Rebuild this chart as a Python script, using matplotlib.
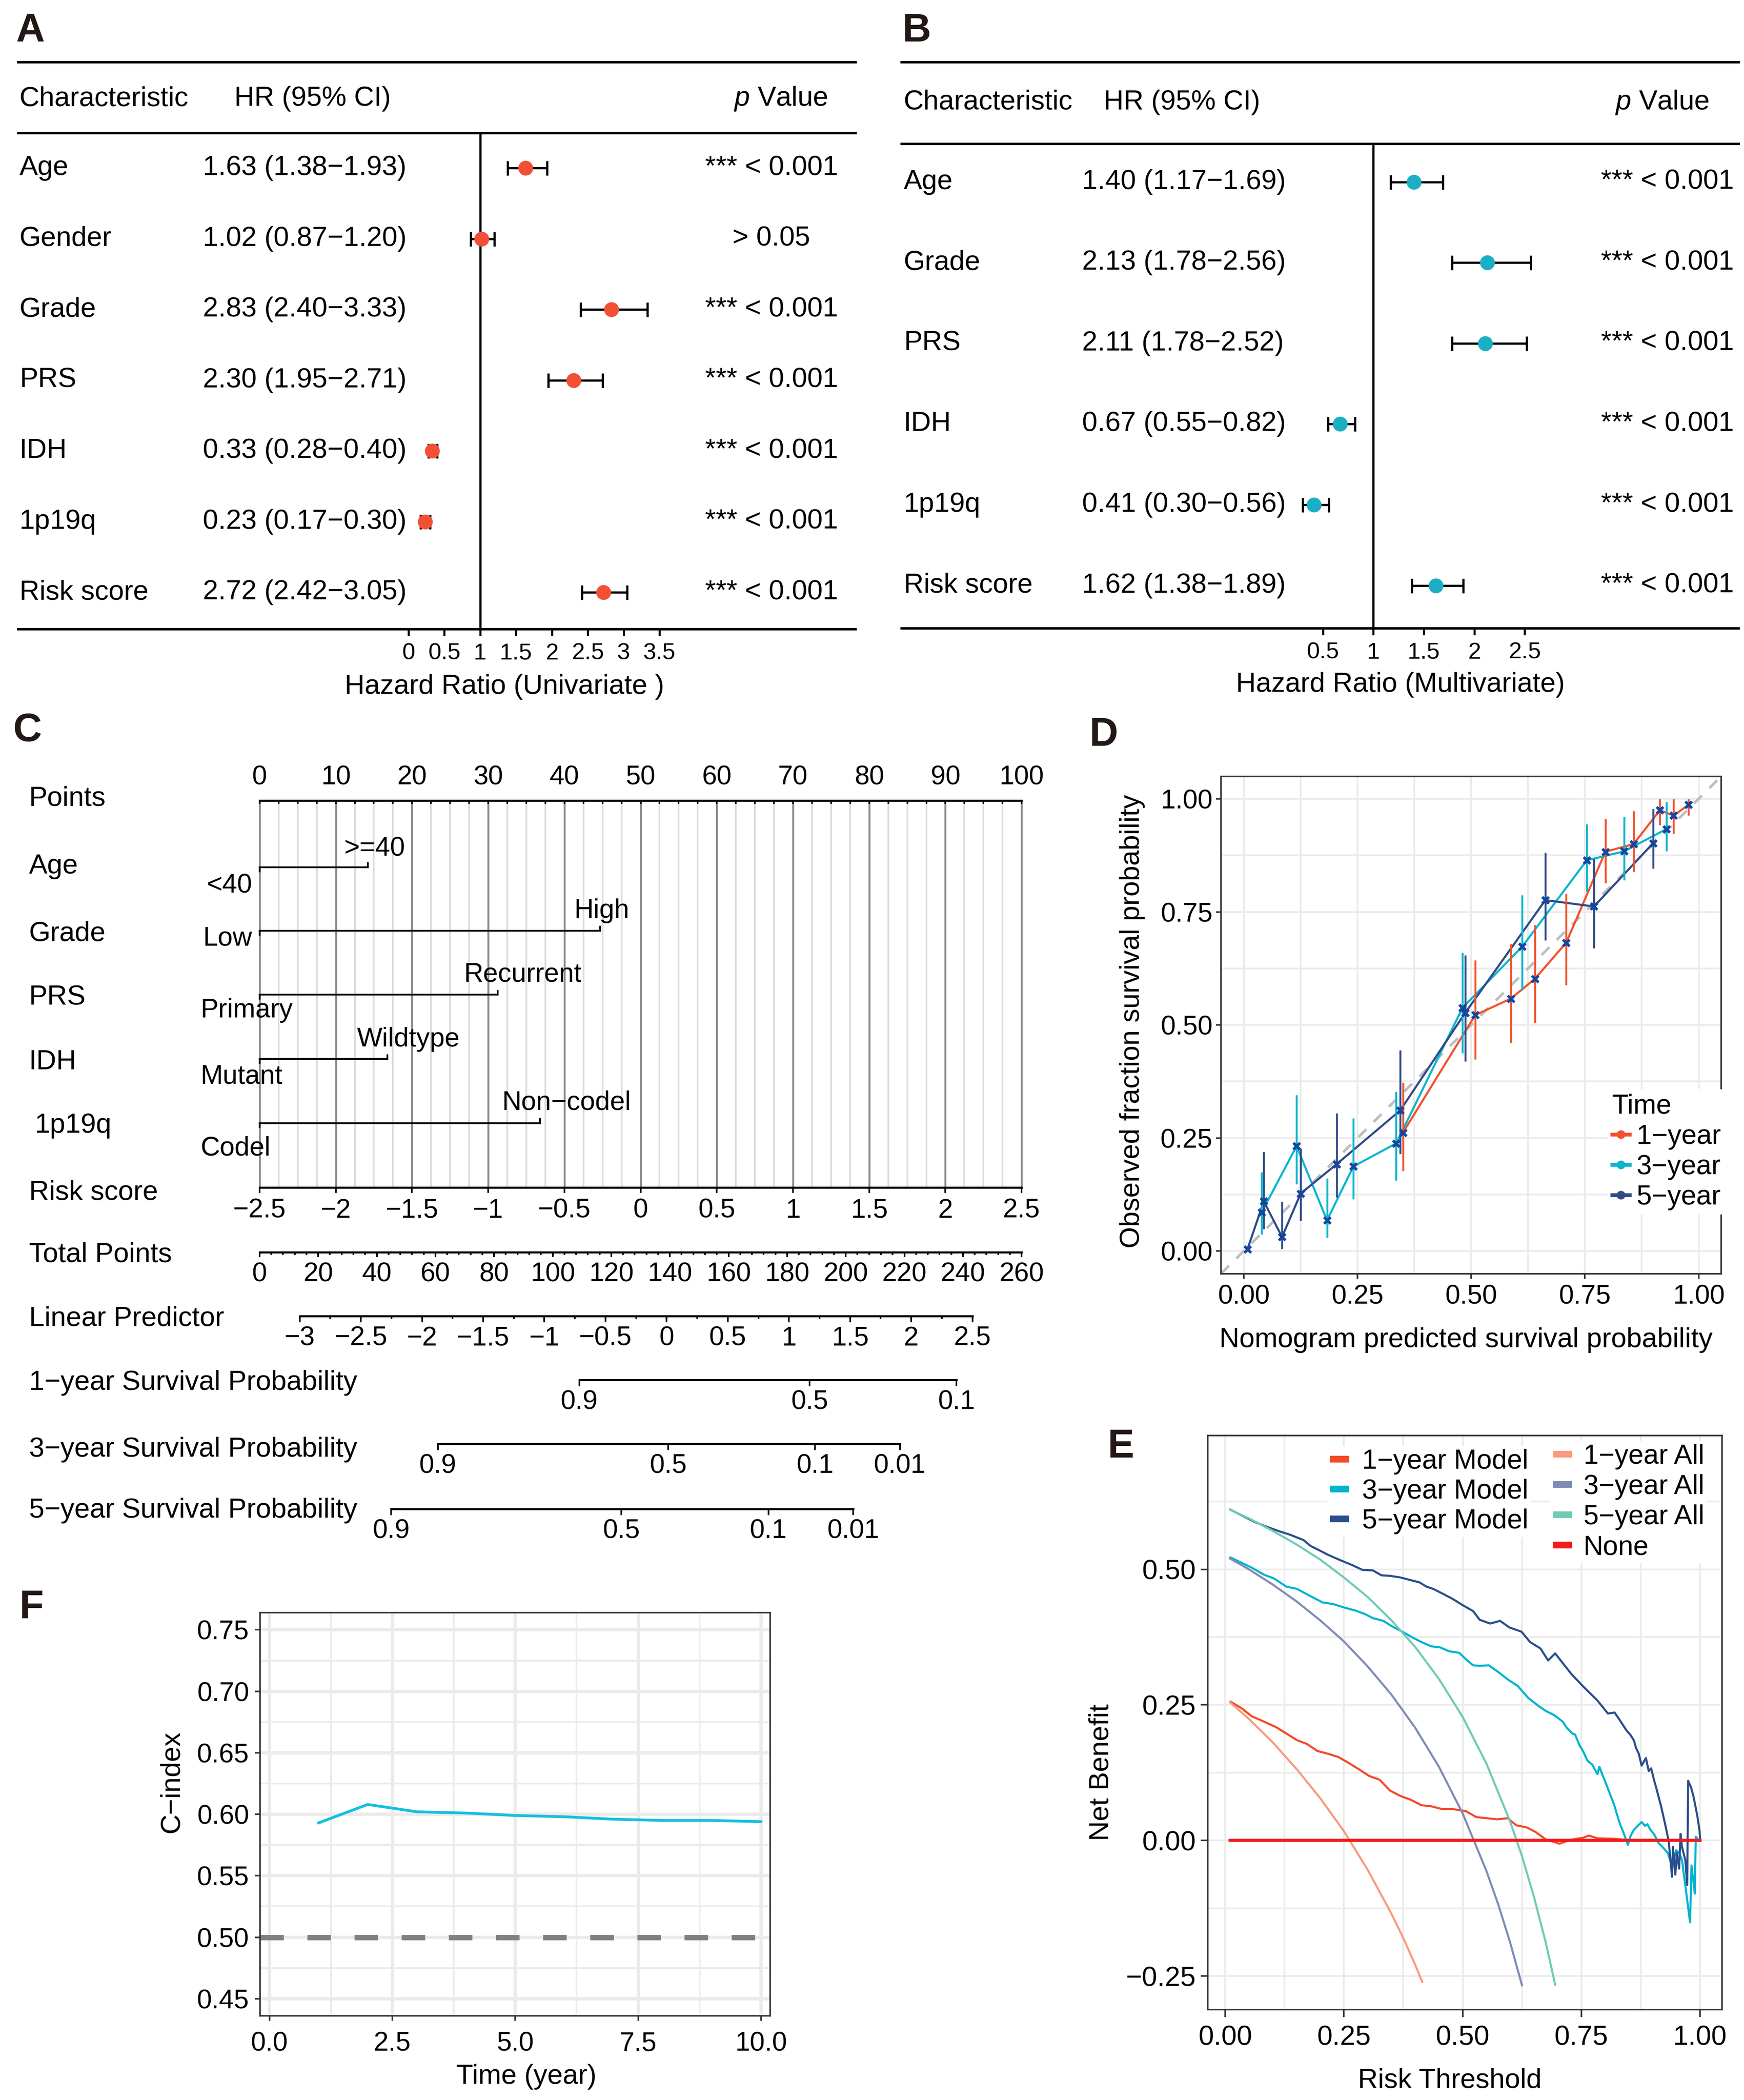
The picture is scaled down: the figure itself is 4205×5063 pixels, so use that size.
import numpy as np
import matplotlib
matplotlib.use("Agg")
import matplotlib.pyplot as plt
from matplotlib.lines import Line2D

plt.rcParams['font.family'] = ['Liberation Sans', 'DejaVu Sans']
plt.rcParams['mathtext.fontset'] = 'custom'
plt.rcParams['mathtext.rm'] = 'Liberation Sans'
plt.rcParams['mathtext.it'] = 'Liberation Sans:italic'

# ---------------- A: univariate Cox ----------------
uni_names = ["Age", "Gender", "Grade", "PRS", "IDH", "1p19q", "Risk score"]
uni_hr = [1.63, 1.02, 2.83, 2.30, 0.33, 0.23, 2.72]
uni_lo = [1.38, 0.87, 2.40, 1.95, 0.28, 0.17, 2.42]
uni_hi = [1.93, 1.20, 3.33, 2.71, 0.40, 0.30, 3.05]
uni_p = ["*** < 0.001", "> 0.05", "*** < 0.001", "*** < 0.001",
         "*** < 0.001", "*** < 0.001", "*** < 0.001"]
uni_ticks = [0, 0.5, 1, 1.5, 2, 2.5, 3, 3.5]

# ---------------- B: multivariate Cox ----------------
multi_names = ["Age", "Grade", "PRS", "IDH", "1p19q", "Risk score"]
multi_hr = [1.40, 2.13, 2.11, 0.67, 0.41, 1.62]
multi_lo = [1.17, 1.78, 1.78, 0.55, 0.30, 1.38]
multi_hi = [1.69, 2.56, 2.52, 0.82, 0.56, 1.89]
multi_p = ["*** < 0.001"] * 6
multi_ticks = [0.5, 1, 1.5, 2, 2.5]

# ---------------- C: nomogram ----------------
nomo_vars = ["Age", "Grade", "PRS", "IDH", "1p19q"]
nomo_low = ["<40", "Low", "Primary", "Mutant", "Codel"]
nomo_high = [">=40", "High", "Recurrent", "Wildtype", "Non\u2212codel"]
nomo_high_pts = [14.2, 44.7, 31.25, 16.75, 36.8]
risk_ticks = [-2.5, -2, -1.5, -1, -0.5, 0, 0.5, 1, 1.5, 2, 2.5]
risk_min, risk_max = -2.5, 2.5            # spans 0..100 points
total_per_point = 2.6                     # total points per nomogram point
total_ticks = list(range(0, 261, 20))
lp_ticks = [-3, -2.5, -2, -1.5, -1, -0.5, 0, 0.5, 1, 1.5, 2, 2.5]
lp_at_zero_points = -3.328
lp_per_point = 0.0623
surv_names = ["1\u2212year Survival Probability", "3\u2212year Survival Probability",
              "5\u2212year Survival Probability"]
surv_ticks = [[0.9, 0.5, 0.1], [0.9, 0.5, 0.1, 0.01], [0.9, 0.5, 0.1, 0.01]]
surv_base = [0.8064, 0.5045, 0.3669]      # baseline survival at lp = 0

# ---------------- D: calibration ----------------
cal_names = ["1\u2212year", "3\u2212year", "5\u2212year"]
cal_x = [[0.350, 0.509, 0.587, 0.640, 0.709, 0.795, 0.857, 0.915, 0.945, 0.978],
         [0.039, 0.116, 0.183, 0.241, 0.335, 0.481, 0.612, 0.754, 0.836, 0.929],
         [0.008, 0.044, 0.084, 0.125, 0.204, 0.344, 0.487, 0.663, 0.770, 0.900]]
cal_y = [[0.262, 0.522, 0.558, 0.602, 0.682, 0.883, 0.900, 0.975, 0.963, 0.987],
         [0.085, 0.232, 0.068, 0.187, 0.238, 0.538, 0.673, 0.864, 0.884, 0.933],
         [0.004, 0.110, 0.031, 0.127, 0.192, 0.311, 0.527, 0.776, 0.762, 0.902]]
cal_lo = [[0.177, 0.424, 0.461, 0.505, 0.588, 0.814, 0.839, 0.942, 0.923, 0.963],
          [0.037, 0.148, 0.029, 0.115, 0.156, 0.438, 0.577, 0.795, 0.820, 0.884],
          [0.004, 0.049, 0.005, 0.067, 0.118, 0.215, 0.419, 0.687, 0.670, 0.846]]
cal_hi = [[0.373, 0.643, 0.679, 0.721, 0.790, 0.956, 0.973, 1.000, 1.000, 1.000],
          [0.174, 0.345, 0.161, 0.294, 0.352, 0.660, 0.787, 0.944, 0.961, 0.994],
          [0.004, 0.219, 0.109, 0.227, 0.305, 0.444, 0.654, 0.881, 0.867, 0.978]]
cal_colors = ["#F4512C", "#0BB5CF", "#2E4B88"]

# ---------------- E: decision curves ----------------
m1_x = [0.011, 0.034, 0.056, 0.082, 0.107, 0.129, 0.151, 0.172, 0.194, 0.216, 0.238, 0.260,
        0.282, 0.303, 0.325, 0.347, 0.369, 0.391, 0.413, 0.434, 0.456, 0.478, 0.507, 0.529,
        0.551, 0.573, 0.595, 0.613, 0.635, 0.653, 0.675, 0.704, 0.714, 0.725, 0.754, 0.766,
        0.784, 0.819, 0.848, 0.900, 0.950, 0.995]
m1_y = [0.256, 0.244, 0.229, 0.219, 0.209, 0.197, 0.185, 0.178, 0.165, 0.160, 0.154, 0.143,
        0.131, 0.119, 0.112, 0.092, 0.082, 0.075, 0.065, 0.063, 0.058, 0.058, 0.054, 0.043,
        0.041, 0.039, 0.041, 0.028, 0.024, 0.016, 0.002, -0.006, -0.003, 0.001, 0.005, 0.009,
        0.004, 0.003, 0.001, 0.001, 0.000, 0.000]
m3_x = [0.011, 0.056, 0.082, 0.103, 0.129, 0.151, 0.172, 0.194, 0.205, 0.227, 0.253, 0.274,
        0.293, 0.311, 0.333, 0.351, 0.373, 0.391, 0.413, 0.434, 0.453, 0.471, 0.493, 0.507,
        0.522, 0.536, 0.555, 0.573, 0.595, 0.616, 0.638, 0.660, 0.675, 0.693, 0.711, 0.719,
        0.730, 0.737, 0.746, 0.754, 0.763, 0.773, 0.784, 0.788, 0.795, 0.805, 0.819, 0.830,
        0.842, 0.848, 0.854, 0.861, 0.870, 0.877, 0.884, 0.889, 0.896, 0.903, 0.912, 0.921,
        0.932, 0.938, 0.944, 0.950, 0.956, 0.962, 0.970, 0.979, 0.982, 0.989, 0.991, 0.994]
m3_y = [0.522, 0.503, 0.490, 0.483, 0.468, 0.464, 0.454, 0.444, 0.439, 0.436, 0.429, 0.424,
        0.418, 0.410, 0.405, 0.395, 0.385, 0.376, 0.366, 0.358, 0.356, 0.349, 0.346, 0.334,
        0.323, 0.322, 0.323, 0.312, 0.297, 0.285, 0.263, 0.248, 0.239, 0.231, 0.219, 0.208,
        0.198, 0.195, 0.176, 0.164, 0.147, 0.140, 0.122, 0.136, 0.120, 0.098, 0.066, 0.034,
        0.007, -0.008, 0.009, 0.020, 0.028, 0.034, 0.027, 0.030, 0.019, 0.012, -0.004, -0.012,
        -0.023, -0.039, -0.034, -0.018, -0.023, -0.036, -0.090, -0.151, -0.046, -0.098, 0.007, 0.004]
m5_x = [0.011, 0.063, 0.089, 0.111, 0.136, 0.165, 0.180, 0.194, 0.216, 0.242, 0.267, 0.289,
        0.311, 0.329, 0.347, 0.369, 0.391, 0.409, 0.424, 0.438, 0.456, 0.478, 0.500, 0.522,
        0.536, 0.558, 0.579, 0.598, 0.624, 0.642, 0.664, 0.680, 0.695, 0.711, 0.729, 0.755,
        0.784, 0.806, 0.820, 0.831, 0.845, 0.854, 0.861, 0.865, 0.871, 0.877, 0.886, 0.892,
        0.897, 0.903, 0.909, 0.918, 0.927, 0.934, 0.941, 0.943, 0.948, 0.951, 0.956, 0.959,
        0.962, 0.969, 0.973, 0.975, 0.981, 0.986, 0.994, 0.999, 1.000]
m5_y = [0.610, 0.587, 0.578, 0.571, 0.564, 0.554, 0.543, 0.537, 0.527, 0.517, 0.508, 0.499,
        0.498, 0.489, 0.488, 0.485, 0.480, 0.476, 0.468, 0.464, 0.456, 0.446, 0.434, 0.423,
        0.407, 0.400, 0.405, 0.393, 0.385, 0.366, 0.354, 0.332, 0.345, 0.327, 0.307, 0.283,
        0.258, 0.234, 0.236, 0.222, 0.203, 0.194, 0.184, 0.171, 0.160, 0.138, 0.152, 0.128,
        0.133, 0.112, 0.093, 0.063, 0.028, -0.001, -0.067, -0.012, -0.063, -0.023, -0.052, 0.012,
        -0.012, -0.036, -0.082, 0.110, 0.098, 0.082, 0.047, 0.018, 0.003]
a1_x = [0.01, 0.05, 0.10, 0.15, 0.20, 0.25, 0.30, 0.35, 0.375, 0.40, 0.415]
a1_y = [0.255, 0.224, 0.181, 0.132, 0.078, 0.017, -0.054, -0.135, -0.180, -0.229, -0.261]
a3_x = [0.01, 0.05, 0.10, 0.15, 0.20, 0.25, 0.30, 0.35, 0.40, 0.45, 0.50, 0.55, 0.575, 0.60, 0.625]
a3_y = [0.520, 0.500, 0.472, 0.441, 0.406, 0.367, 0.321, 0.269, 0.208, 0.136, 0.050, -0.056,
        -0.118, -0.188, -0.267]
a5_x = [0.01, 0.05, 0.10, 0.15, 0.20, 0.25, 0.30, 0.35, 0.40, 0.45, 0.50, 0.55, 0.60, 0.625,
        0.65, 0.675, 0.695]
a5_y = [0.610, 0.594, 0.571, 0.546, 0.518, 0.485, 0.449, 0.406, 0.357, 0.298, 0.228, 0.142,
        0.035, -0.029, -0.103, -0.188, -0.266]
none_x = [0.01, 1.0]
none_y = [0.0, 0.0]
model_names = ["1\u2212year Model", "3\u2212year Model", "5\u2212year Model"]
all_names = ["1\u2212year All", "3\u2212year All", "5\u2212year All", "None"]
model_colors = ["#F5492A", "#00B4D0", "#2B4E8C"]
all_colors = ["#F99B7D", "#7F8DB5", "#6FCBB8", "#F21B1B"]

# ---------------- F: time-dependent C-index ----------------
years = [1, 2, 3, 4, 5, 6, 7, 8, 9, 10]
cindex = [0.593, 0.608, 0.602, 0.601, 0.599, 0.598, 0.596, 0.595, 0.595, 0.594]

# ================= layout helpers (display px of a 1300-wide view) =================
W, H = 1300.0, 5063 / 3.2346
FS = 16
fig = plt.figure(figsize=(4205 / 300, 5063 / 300), dpi=300)


def rect(x0, y0, x1, y1):
    return [x0 / W, 1 - y1 / H, (x1 - x0) / W, (y1 - y0) / H]


def fx(x):
    return x / W


def fy(y):
    return 1 - y / H


for lab, x, y in [("A", 12, 31), ("B", 672.5, 31), ("C", 9.5, 552.5), ("D", 812, 556),
                  ("E", 825.5, 1086.5), ("F", 14.3, 1206)]:
    fig.text(fx(x), fy(y), lab, fontsize=23, fontweight='bold', color='#231815', va='baseline')


# ================= A / B forest plots =================
def forest(box, names, hr, lo, hi, pvals, color, ylim, hdr_line, col, hdr_y, xticks, xlabel, xlab_xy):
    x0, y0, x1, y1, hr0, unit = box
    ax = fig.add_axes(rect(x0, y0, x1, y1))
    ax.set_xlim((x0 - hr0) / unit, (x1 - hr0) / unit)
    ax.set_ylim(*ylim)
    for s in ax.spines.values():
        s.set_visible(False)
    ax.set_yticks([])
    for yy in (ylim[1], hdr_line, ylim[0]):
        ax.axhline(yy, color='black', lw=1.4, clip_on=False)
    ax.plot([1, 1], [hdr_line, ylim[0]], color='black', lw=1.3)
    hr = np.asarray(hr)
    lo = np.asarray(lo)
    hi = np.asarray(hi)
    rows = np.arange(len(names))
    ax.errorbar(hr, rows, xerr=[hr - lo, hi - hr], fmt='none', ecolor='black',
                elinewidth=1.3, capsize=4.2, capthick=1.3, zorder=3)
    ax.plot(hr, rows, 'o', color=color, ms=8.6, mew=0, zorder=4)
    tr = ax.get_yaxis_transform()
    ax.text(col[0], hdr_y, "Characteristic", transform=tr, ha='left', va='center', fontsize=FS)
    ax.text(col[2], hdr_y, "HR (95% CI)", transform=tr, ha='left', va='center', fontsize=FS)
    ax.text(col[4], hdr_y, r"$p$ Value", transform=tr, ha='right', va='center', fontsize=FS)
    for i, n in enumerate(names):
        ax.text(col[0], i, n, transform=tr, ha='left', va='center', fontsize=FS)
        ax.text(col[1], i, f"{hr[i]:.2f} ({lo[i]:.2f}\u2212{hi[i]:.2f})", transform=tr,
                ha='left', va='center', fontsize=FS)
        ax.text(col[3], i, pvals[i], transform=tr, ha='center', va='center', fontsize=FS)
    ax.set_xticks(xticks)
    ax.set_xticklabels([f"{t:g}" for t in xticks])
    ax.tick_params(axis='x', length=3.9, width=1.2, pad=4, labelsize=13.5)
    ax.set_xlabel(xlabel, fontsize=FS)
    ax.xaxis.set_label_coords(*xlab_xy)
    ax.xaxis.label.set_va('center')
    return ax


forest((13.6, 46.5, 637.8, 469.0, 304.5, 53.45), uni_names, uni_hr, uni_lo, uni_hi, uni_p,
       '#F25035', (6.522, -1.495), -0.493, (0.0015, 0.2206, 0.2581, 0.8994, 0.9667), -0.98,
       uni_ticks, "Hazard Ratio (Univariate )", (0.5806, -0.102))
forest((672.0, 46.5, 1296.0, 468.3, 948.5, 75.2), multi_names, multi_hr, multi_lo, multi_hi, multi_p,
       '#1BAFC5', (5.530, -1.481), -0.472, (0.0027, 0.2155, 0.2415, 0.9151, 0.9647), -0.985,
       multi_ticks, "Hazard Ratio (Multivariate)", (0.596, -0.0996))

# ================= C nomogram =================
PX0, PXS = 193.5, 5.68          # display x of 0 points and px per point


def px2pt(px):
    return (px - PX0) / PXS


axc = fig.add_axes(rect(0, 560, 800, 1160))
axc.set_xlim(px2pt(0), px2pt(800))
axc.set_ylim(1160, 560)
axc.axis('off')
AX_LW, SEG_LW = 1.2, 1.0
CFS = 15.5

y_pts, y_risk = 596.8, 885.0
minor = np.arange(0, 100.01, 2.5)
axc.vlines([v for v in minor if v % 10], y_pts, y_risk, color='#DCDCDC', lw=1.0, zorder=1)
axc.vlines(np.arange(0, 101, 10), y_pts, y_risk, color='#8A8A8A', lw=1.1, zorder=1)
axc.plot([0, 100], [y_pts, y_pts], color='black', lw=AX_LW)
axc.vlines(minor, y_pts, y_pts + 2.5, color='black', lw=0.9)
for v in range(0, 101, 10):
    axc.text(v, 579.4, f"{v}", ha='center', va='center', fontsize=CFS)

row_label_y = [595.2, 645.7, 696.2, 743.8, 791.8, 839.0, 889.0, 935.5, 983.0, 1030.7, 1080.4, 1125.9]
row_labels = ["Points"] + nomo_vars + ["Risk score", "Total Points", "Linear Predictor"] + surv_names
for lab, yy in zip(row_labels, row_label_y):
    xl = 25.8 if lab == "1p19q" else 21.6
    axc.text(px2pt(xl), yy, lab, ha='left', va='center', fontsize=FS)

seg_y = [646.5, 693.8, 741.5, 789.4, 837.1]
hi_y = [632.7, 679.0, 726.3, 774.6, 822.0]
hi_dx = [0.9, 0.25, 3.3, 2.8, 3.5]
lo_y = [660.3, 699.6, 753.0, 802.3, 856.0]
lo_ha = ['right', 'right', 'left', 'left', 'left']
for k in range(len(nomo_vars)):
    p = nomo_high_pts[k]
    yy = seg_y[k]
    axc.plot([0, p], [yy, yy], color='black', lw=SEG_LW)
    axc.plot([0, 0], [yy, yy + 3], color='black', lw=SEG_LW)
    axc.plot([p, p], [yy, yy - 3], color='black', lw=SEG_LW)
    axc.text(p + hi_dx[k], hi_y[k], nomo_high[k], ha='center', va='center', fontsize=CFS)
    xl = px2pt(188) if lo_ha[k] == 'right' else px2pt(149.5)
    axc.text(xl, lo_y[k], nomo_low[k], ha=lo_ha[k], va='center', fontsize=CFS)

# risk score axis
rpts = [(r - risk_min) / (risk_max - risk_min) * 100 for r in risk_ticks]
axc.plot([0, 100], [y_risk, y_risk], color='black', lw=AX_LW)
axc.vlines(rpts, y_risk, y_risk + 4, color='black', lw=0.9)
for r, p in zip(risk_ticks, rpts):
    axc.text(p, 902.3, f"{r:g}".replace('-', '\u2212'), ha='center', va='center', fontsize=CFS)

# total points axis
y_tot = 933.4
axc.plot([0, 260 / total_per_point], [y_tot, y_tot], color='black', lw=AX_LW)
axc.vlines(np.arange(0, 261, 4) / total_per_point, y_tot, y_tot + 2.2, color='black', lw=0.9)
axc.vlines(np.array(total_ticks) / total_per_point, y_tot, y_tot + 3.7, color='black', lw=0.9)
for t in total_ticks:
    axc.text(t / total_per_point, 950.0, f"{t}", ha='center', va='center', fontsize=CFS)


def lp2pt(lp):
    return (np.asarray(lp) - lp_at_zero_points) / lp_per_point


# linear predictor axis
y_lp = 981.0
axc.plot(lp2pt([lp_ticks[0], lp_ticks[-1]]), [y_lp, y_lp], color='black', lw=AX_LW)
axc.vlines(lp2pt(np.arange(-3, 2.51, 0.25)), y_lp, y_lp + 2.2, color='black', lw=0.9)
axc.vlines(lp2pt(lp_ticks), y_lp, y_lp + 4.5, color='black', lw=0.9)
for t in lp_ticks:
    axc.text(lp2pt(t), 997.6, f"{t:g}".replace('-', '\u2212'), ha='center', va='center', fontsize=CFS)

# survival probability axes
surv_line_y = [1028.6, 1076.2, 1124.7]
surv_lab_y = [1045.2, 1092.8, 1141.2]
for ticks, s0, yl, yt in zip(surv_ticks, surv_base, surv_line_y, surv_lab_y):
    lp = np.log(-np.log(np.array(ticks))) - np.log(-np.log(s0))
    xs = lp2pt(lp)
    axc.plot([xs.min(), xs.max()], [yl, yl], color='black', lw=AX_LW)
    axc.vlines(xs, yl, yl + 4.5, color='black', lw=0.9)
    for t, xv in zip(ticks, xs):
        axc.text(xv, yt, f"{t:g}", ha='center', va='center', fontsize=CFS)


# ================= ggplot-like axes helper =================
def gg_axes(box, xlim, ylim, xt, yt, xmin, ymin, xfmt, yfmt, tick_len, pads, lsize, glw=(1.0, 1.0)):
    ax = fig.add_axes(rect(*box))
    ax.set_xlim(*xlim)
    ax.set_ylim(*ylim)
    ax.set_xticks(xt)
    ax.set_yticks(yt)
    ax.set_xticklabels([xfmt(v) for v in xt])
    ax.set_yticklabels([yfmt(v) for v in yt])
    ax.set_xticks(xmin, minor=True)
    ax.set_yticks(ymin, minor=True)
    ax.grid(which='major', color='#EBEBEB', lw=glw[0])
    ax.grid(which='minor', color='#EBEBEB', lw=glw[1])
    ax.set_axisbelow(True)
    ax.tick_params(which='minor', length=0)
    ax.tick_params(which='major', length=tick_len, width=0.9, color='#333333', labelsize=lsize)
    ax.tick_params(axis='x', pad=pads[0])
    ax.tick_params(axis='y', pad=pads[1])
    for s in ax.spines.values():
        s.set_color('#333333')
        s.set_linewidth(0.9)
    return ax


def f2(v):
    return f"{v:.2f}".replace('-', '\u2212')


# ================= D calibration =================
q = [0, 0.25, 0.5, 0.75, 1.0]
qm = [0.125, 0.375, 0.625, 0.875]
axd = gg_axes((910.2, 578.6, 1283.1, 949.3), (-0.05, 1.05), (-0.05, 1.05), q, q, qm, qm,
              f2, f2, 2.9, (3.3, 2.0), 15.5)
axd.plot([-0.05, 1.05], [-0.05, 1.05], color='#BEBEBE', lw=1.5, dashes=(4.3, 4.0), zorder=1.5)
for k in range(3):
    axd.plot(cal_x[k], cal_y[k], color=cal_colors[k], lw=1.2, zorder=2)
for k in range(3):
    axd.vlines(cal_x[k], cal_lo[k], cal_hi[k], color=cal_colors[k], lw=1.1, zorder=2.5)
for k in range(3):
    axd.plot(cal_x[k], cal_y[k], ls='none', marker='x', ms=4, mew=1.6, color='#1446A0', zorder=3)
axd.set_xlabel("Nomogram predicted survival probability", fontsize=FS)
axd.set_ylabel("Observed fraction survival probability", fontsize=FS)
axd.xaxis.set_label_coords(0.49, -0.1338)
axd.yaxis.set_label_coords(-0.1775, 0.507)
axd.xaxis.label.set_va('center')
axd.yaxis.label.set_va('center')
hd = [Line2D([], [], color=c, lw=2.2, marker='o', ms=4.0) for c in cal_colors]
axd.legend(hd, cal_names, title="Time", loc='upper left', bbox_to_anchor=(fx(1198.5), fy(812)),
           bbox_transform=fig.transFigure, frameon=True, fancybox=False, edgecolor='none',
           facecolor='white', framealpha=1, fontsize=15.8, title_fontsize=15.8,
           handlelength=0.65, handletextpad=0.25, labelspacing=0.17, borderpad=0.15,
           borderaxespad=0, alignment='left')

# ================= E decision curves =================
axe = gg_axes((900.2, 1069.9, 1283.5, 1497.9), (-0.037, 1.046), (-0.312, 0.747), q,
              [-0.25, 0, 0.25, 0.5], qm, [-0.125, 0.125, 0.375, 0.625], f2, f2, 4.2, (4.7, 2.6), 16)
for xs, ys, c in zip([m1_x, m3_x, m5_x], [m1_y, m3_y, m5_y], model_colors):
    axe.plot(xs, ys, color=c, lw=1.2)
for xs, ys, c in zip([a1_x, a3_x, a5_x], [a1_y, a3_y, a5_y], all_colors[:3]):
    axe.plot(xs, ys, color=c, lw=1.2)
axe.plot(none_x, none_y, color=all_colors[3], lw=1.8)
axe.set_xlabel("Risk Threshold", fontsize=FS)
axe.set_ylabel("Net Benefit", fontsize=FS)
axe.xaxis.set_label_coords(0.4707, -0.124)
axe.yaxis.set_label_coords(-0.2066, 0.413)
axe.xaxis.label.set_va('center')
axe.yaxis.label.set_va('center')
leg_kw = dict(loc='upper left', bbox_transform=fig.transFigure, frameon=True, fancybox=False,
              edgecolor='none', facecolor='white', framealpha=1, fontsize=15.8,
              handlelength=0.7, borderpad=0.1, borderaxespad=0)
h1 = [Line2D([], [], color=c, lw=3.9, solid_capstyle='butt') for c in model_colors]
leg1 = axe.legend(h1, model_names, bbox_to_anchor=(fx(989.5), fy(1078)), handletextpad=0.47,
                  labelspacing=0.15, **leg_kw)
axe.add_artist(leg1)
h2 = [Line2D([], [], color=c, lw=3.9, solid_capstyle='butt') for c in all_colors]
axe.legend(h2, all_names, bbox_to_anchor=(fx(1155.5), fy(1074)), handletextpad=0.42,
           labelspacing=0.17, **leg_kw)

# ================= F C-index =================
axf = gg_axes((193.9, 1202.0, 574.2, 1502.6), (-0.19, 10.19), (0.436, 0.764),
              [0, 2.5, 5, 7.5, 10], [0.45, 0.50, 0.55, 0.60, 0.65, 0.70, 0.75],
              [1.25, 3.75, 6.25, 8.75], [0.475, 0.525, 0.575, 0.625, 0.675, 0.725],
              lambda v: f"{v:.1f}", f2, 2.9, (6.0, 3.5), 15.5, glw=(1.9, 1.0))
axf.axhline(0.5, color='#808080', lw=3.1, dashes=(4.4, 4.4))
axf.plot(years, cindex, color='#12C0DF', lw=1.6)
axf.set_xlabel("Time (year)", fontsize=FS)
axf.set_ylabel("C\u2212index", fontsize=FS)
axf.xaxis.set_label_coords(0.522, -0.151)
axf.yaxis.set_label_coords(-0.1733, 0.581)
axf.xaxis.label.set_va('center')
axf.yaxis.label.set_va('center')

fig.savefig("out.png", dpi=300)
